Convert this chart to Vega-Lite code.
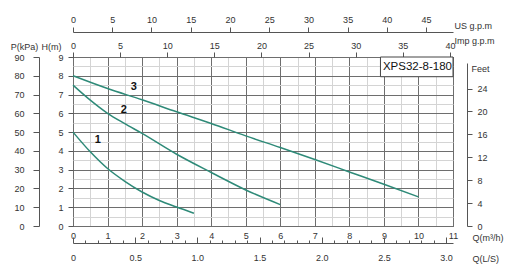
{
  "$schema": "https://vega.github.io/schema/vega-lite/v6.json",
  "width": 380,
  "height": 169,
  "autosize": {"type": "none"},
  "padding": {"left": 73, "top": 57, "right": 59, "bottom": 50},
  "background": "white",
  "config": {
    "font": "Liberation Sans",
    "view": {"stroke": "#444", "strokeWidth": 1},
    "axis": {
      "labelFont": "Liberation Sans",
      "titleFont": "Liberation Sans",
      "labelFontSize": 9,
      "titleFontSize": 9,
      "titleFontWeight": "normal",
      "labelColor": "#333",
      "titleColor": "#333",
      "domainColor": "#555",
      "tickColor": "#555",
      "labelFlush": false,
      "labelOverlap": false
    }
  },
  "datasets": {
    "curves": [
      {"curve": "1", "Q": 0, "H": 5.0},
      {"curve": "1", "Q": 0.5, "H": 3.95},
      {"curve": "1", "Q": 1, "H": 3.06},
      {"curve": "1", "Q": 1.5, "H": 2.38},
      {"curve": "1", "Q": 2, "H": 1.81},
      {"curve": "1", "Q": 2.5, "H": 1.36},
      {"curve": "1", "Q": 3, "H": 1.01},
      {"curve": "1", "Q": 3.5, "H": 0.68},
      {"curve": "2", "Q": 0, "H": 7.5},
      {"curve": "2", "Q": 0.5, "H": 6.7},
      {"curve": "2", "Q": 1, "H": 6.0},
      {"curve": "2", "Q": 1.5, "H": 5.45},
      {"curve": "2", "Q": 2, "H": 4.93},
      {"curve": "2", "Q": 3, "H": 3.82},
      {"curve": "2", "Q": 4, "H": 2.85},
      {"curve": "2", "Q": 5, "H": 1.92},
      {"curve": "2", "Q": 6, "H": 1.14},
      {"curve": "3", "Q": 0, "H": 8.0},
      {"curve": "3", "Q": 1, "H": 7.32},
      {"curve": "3", "Q": 2, "H": 6.72},
      {"curve": "3", "Q": 3, "H": 6.08},
      {"curve": "3", "Q": 4, "H": 5.46},
      {"curve": "3", "Q": 5, "H": 4.8},
      {"curve": "3", "Q": 6, "H": 4.18},
      {"curve": "3", "Q": 7, "H": 3.54},
      {"curve": "3", "Q": 8, "H": 2.88},
      {"curve": "3", "Q": 9, "H": 2.22},
      {"curve": "3", "Q": 10, "H": 1.55}
    ],
    "labels": [
      {"label": "1", "Q": 0.72, "H": 4.57},
      {"label": "2", "Q": 1.47, "H": 6.17},
      {"label": "3", "Q": 1.76, "H": 7.4}
    ],
    "box": [
      {"name": "XPS32-8-180", "x1": 8.9, "x2": 11, "y1": 7.95, "y2": 9, "xm": 9.97, "ym": 8.47}
    ]
  },
  "data": {"name": "curves"},
  "resolve": {
    "scale": {"x": "independent", "y": "independent"},
    "axis": {"x": "independent", "y": "independent"}
  },
  "layer": [
    {
      "mark": {"type": "point", "opacity": 0},
      "encoding": {
        "x": {"field": "Q", "type": "quantitative", "scale": {"domain": [0, 11], "nice": false, "zero": false},
          "axis": {"orient": "bottom", "values": [0.5,1.5,2.5,3.5,4.5,5.5,6.5,7.5,8.5,9.5,10.5], "grid": true, "gridColor": "#d4d4d4", "gridOpacity": 1, "labels": false, "ticks": false, "domain": false, "title": null}},
        "y": {"field": "H", "type": "quantitative", "scale": {"domain": [0, 9], "nice": false, "zero": false},
          "axis": {"orient": "left", "values": [0.5,1.5,2.5,3.5,4.5,5.5,6.5,7.5,8.5], "grid": true, "gridColor": "#d4d4d4", "gridOpacity": 1, "labels": false, "ticks": false, "domain": false, "title": null}}
      }
    },
    {
      "mark": {"type": "line", "interpolate": "monotone", "color": "#2e8a78", "strokeWidth": 1.5},
      "encoding": {
        "detail": {"field": "curve"},
        "x": {"field": "Q", "type": "quantitative", "scale": {"domain": [0, 11], "nice": false, "zero": false},
          "axis": {"orient": "bottom", "values": [0,1,2,3,4,5,6,7,8,9,10,11], "grid": true, "gridColor": "#6e6e6e", "gridOpacity": 1, "ticks": false, "domain": false, "labelPadding": 5,
            "title": "Q(m³/h)", "titleAngle": 0, "titleX": 399, "titleY": 11, "titleAlign": "left", "titleBaseline": "middle"}},
        "y": {"field": "H", "type": "quantitative", "scale": {"domain": [0, 9], "nice": false, "zero": false},
          "axis": {"orient": "left", "values": [0,1,2,3,4,5,6,7,8,9], "grid": true, "gridColor": "#6e6e6e", "gridOpacity": 1, "tickSize": 5, "domain": false, "labelPadding": 5,
            "title": "H(m)", "titleAngle": 0, "titleX": -22, "titleY": -11, "titleAlign": "center", "titleBaseline": "middle"}}
      }
    },
    {
      "data": {"name": "box"},
      "mark": {"type": "rect", "fill": "white", "stroke": "#444", "strokeWidth": 1},
      "encoding": {
        "x": {"field": "x1", "type": "quantitative", "scale": {"domain": [0, 11], "nice": false, "zero": false}, "axis": null},
        "x2": {"field": "x2"},
        "y": {"field": "y1", "type": "quantitative", "scale": {"domain": [0, 9], "nice": false, "zero": false}, "axis": null},
        "y2": {"field": "y2"}
      }
    },
    {
      "data": {"name": "box"},
      "mark": {"type": "text", "fontSize": 11.5, "color": "#111", "font": "Liberation Sans"},
      "encoding": {
        "x": {"field": "xm", "type": "quantitative", "scale": {"domain": [0, 11], "nice": false, "zero": false}, "axis": null},
        "y": {"field": "ym", "type": "quantitative", "scale": {"domain": [0, 9], "nice": false, "zero": false}, "axis": null},
        "text": {"field": "name"}
      }
    },
    {
      "data": {"name": "labels"},
      "mark": {"type": "text", "fontSize": 11, "fontWeight": "bold", "color": "#111", "font": "Liberation Sans"},
      "encoding": {
        "x": {"field": "Q", "type": "quantitative", "scale": {"domain": [0, 11], "nice": false, "zero": false}, "axis": null},
        "y": {"field": "H", "type": "quantitative", "scale": {"domain": [0, 9], "nice": false, "zero": false}, "axis": null},
        "text": {"field": "label"}
      }
    },
    {
      "mark": {"type": "point", "opacity": 0},
      "encoding": {
        "y": {"datum": 0, "type": "quantitative", "scale": {"domain": [0, 90], "nice": false, "zero": false},
          "axis": {"orient": "left", "offset": 34, "values": [0,10,20,30,40,50,60,70,80,90], "tickSize": 6, "labelPadding": 9,
            "title": "P(kPa)", "titleAngle": 0, "titleX": -15, "titleY": -11, "titleAlign": "center", "titleBaseline": "middle"}}
      }
    },
    {
      "mark": {"type": "point", "opacity": 0},
      "encoding": {
        "y": {"datum": 0, "type": "quantitative", "scale": {"domain": [0, 28.47], "range": [169, 6], "nice": false, "zero": false},
          "axis": {"orient": "right", "offset": 14, "values": [0,4,8,12,16,20,24], "tickSize": 5, "labelPadding": 5,
            "title": "Feet", "titleAngle": 0, "titleX": 4, "titleY": 11, "titleAlign": "left", "titleBaseline": "middle"}}
      }
    },
    {
      "mark": {"type": "point", "opacity": 0},
      "encoding": {
        "x": {"datum": 0, "type": "quantitative", "scale": {"domain": [0, 48.43], "nice": false, "zero": false},
          "axis": {"orient": "top", "offset": 25, "values": [0,5,10,15,20,25,30,35,40,45], "tickSize": 5, "labelPadding": 3,
            "title": "US  g.p.m", "titleAngle": 0, "titleX": 381, "titleY": -6.5, "titleAlign": "left", "titleBaseline": "middle"}}
      }
    },
    {
      "mark": {"type": "point", "opacity": 0},
      "encoding": {
        "x": {"datum": 0, "type": "quantitative", "scale": {"domain": [0, 40.33], "nice": false, "zero": false},
          "axis": {"orient": "top", "offset": 0, "values": [0,5,10,15,20,25,30,35,40], "tickSize": 5, "labelPadding": 2, "domain": false,
            "title": "Imp  g.p.m", "titleAngle": 0, "titleX": 381, "titleY": -17, "titleAlign": "left", "titleBaseline": "middle"}}
      }
    },
    {
      "mark": {"type": "point", "opacity": 0},
      "encoding": {
        "x": {"datum": 0, "type": "quantitative", "scale": {"domain": [0, 3.0556], "nice": false, "zero": false},
          "axis": {"orient": "bottom", "offset": 17, "values": [0.1,0.2,0.3,0.4,0.6,0.7,0.8,0.9,1.1,1.2,1.3,1.4,1.6,1.7,1.8,1.9,2.1,2.2,2.3,2.4,2.6,2.7,2.8,2.9], "tickSize": -3, "labels": false, "domain": false, "title": null}}
      }
    },
    {
      "mark": {"type": "point", "opacity": 0},
      "encoding": {
        "x": {"datum": 0, "type": "quantitative", "scale": {"domain": [0, 3.0556], "nice": false, "zero": false},
          "axis": {"orient": "bottom", "offset": 17, "values": [0,0.5,1,1.5,2,2.5,3], "labelExpr": "datum.value == 0 ? '0' : format(datum.value, '.1f')", "tickSize": -6, "labelPadding": 16,
            "title": "Q(L/S)", "titleAngle": 0, "titleX": 399, "titleY": 15, "titleAlign": "left", "titleBaseline": "middle"}}
      }
    }
  ]
}
